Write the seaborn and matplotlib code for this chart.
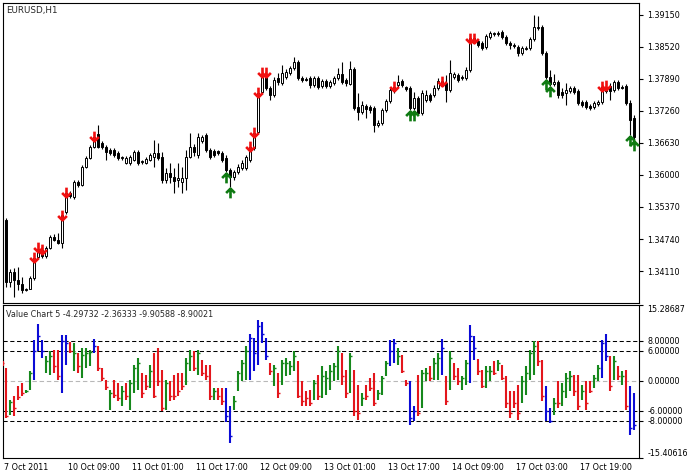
import numpy as np
import matplotlib
matplotlib.use("Agg")
import matplotlib.pyplot as plt
from matplotlib.path import Path
from matplotlib.transforms import offset_copy
import seaborn as sns

# EURUSD H1 candles
open_ = [1.3511, 1.3511, 1.3389, 1.3409, 1.3393, 1.3385, 1.3374, 1.3375, 1.3397, 1.3439,
         1.3452, 1.3440, 1.3456, 1.3478, 1.3472, 1.3466, 1.3527, 1.3565, 1.3557, 1.3586,
         1.3580, 1.3616, 1.3633, 1.3655, 1.3681, 1.3663, 1.3655, 1.3649, 1.3649, 1.3643,
         1.3633, 1.3624, 1.3624, 1.3629, 1.3645, 1.3626, 1.3624, 1.3629, 1.3635, 1.3643,
         1.3635, 1.3590, 1.3604, 1.3596, 1.3590, 1.3586, 1.3594, 1.3635, 1.3655, 1.3639,
         1.3667, 1.3679, 1.3649, 1.3647, 1.3647, 1.3643, 1.3633, 1.3610, 1.3596, 1.3606,
         1.3614, 1.3614, 1.3629, 1.3653, 1.3685, 1.3763, 1.3797, 1.3771, 1.3757, 1.3791,
         1.3781, 1.3793, 1.3801, 1.3811, 1.3822, 1.3791, 1.3789, 1.3791, 1.3777, 1.3791,
         1.3775, 1.3785, 1.3775, 1.3781, 1.3791, 1.3799, 1.3787, 1.3779, 1.3809, 1.3734,
         1.3724, 1.3736, 1.3734, 1.3732, 1.3698, 1.3702, 1.3728, 1.3746, 1.3765, 1.3777,
         1.3785, 1.3773, 1.3771, 1.3732, 1.3752, 1.3722, 1.3748, 1.3757, 1.3757, 1.3771,
         1.3785, 1.3781, 1.3767, 1.3793, 1.3797, 1.3793, 1.3791, 1.3807, 1.3870, 1.3864,
         1.3860, 1.3852, 1.3872, 1.3878, 1.3878, 1.3882, 1.3872, 1.3860, 1.3856, 1.3852,
         1.3840, 1.3848, 1.3850, 1.3868, 1.3889, 1.3891, 1.3840, 1.3793, 1.3779, 1.3783,
         1.3763, 1.3761, 1.3765, 1.3771, 1.3765, 1.3744, 1.3744, 1.3736, 1.3734, 1.3740,
         1.3744, 1.3765, 1.3775, 1.3767, 1.3783, 1.3773, 1.3775, 1.3742, 1.3712]
high = [1.3515, 1.3515, 1.3415, 1.3417, 1.3419, 1.3399, 1.3377, 1.3401, 1.3442, 1.3462,
        1.3458, 1.3460, 1.3482, 1.3484, 1.3486, 1.3525, 1.3570, 1.3568, 1.3590, 1.3590,
        1.3620, 1.3637, 1.3659, 1.3681, 1.3698, 1.3667, 1.3659, 1.3653, 1.3653, 1.3647,
        1.3637, 1.3637, 1.3639, 1.3649, 1.3649, 1.3629, 1.3635, 1.3643, 1.3669, 1.3663,
        1.3645, 1.3614, 1.3624, 1.3614, 1.3624, 1.3616, 1.3649, 1.3683, 1.3661, 1.3683,
        1.3679, 1.3683, 1.3653, 1.3651, 1.3649, 1.3647, 1.3639, 1.3614, 1.3610, 1.3622,
        1.3629, 1.3639, 1.3661, 1.3689, 1.3767, 1.3807, 1.3807, 1.3775, 1.3793, 1.3801,
        1.3817, 1.3809, 1.3815, 1.3832, 1.3826, 1.3795, 1.3793, 1.3795, 1.3795, 1.3795,
        1.3789, 1.3789, 1.3787, 1.3795, 1.3811, 1.3822, 1.3791, 1.3824, 1.3813, 1.3761,
        1.3746, 1.3740, 1.3738, 1.3736, 1.3708, 1.3732, 1.3750, 1.3771, 1.3779, 1.3797,
        1.3789, 1.3775, 1.3775, 1.3763, 1.3755, 1.3767, 1.3767, 1.3761, 1.3777, 1.3791,
        1.3789, 1.3797, 1.3826, 1.3803, 1.3801, 1.3797, 1.3813, 1.3874, 1.3874, 1.3868,
        1.3864, 1.3878, 1.3884, 1.3882, 1.3884, 1.3885, 1.3876, 1.3864, 1.3860, 1.3856,
        1.3854, 1.3854, 1.3872, 1.3915, 1.3913, 1.3895, 1.3844, 1.3807, 1.3799, 1.3787,
        1.3771, 1.3781, 1.3775, 1.3775, 1.3769, 1.3748, 1.3748, 1.3740, 1.3746, 1.3748,
        1.3779, 1.3781, 1.3781, 1.3787, 1.3787, 1.3777, 1.3779, 1.3748, 1.3718]
low = [1.3482, 1.3379, 1.3379, 1.3360, 1.3374, 1.3368, 1.3372, 1.3375, 1.3393, 1.3435,
       1.3437, 1.3437, 1.3454, 1.3470, 1.3464, 1.3456, 1.3523, 1.3555, 1.3553, 1.3576,
       1.3578, 1.3614, 1.3631, 1.3653, 1.3653, 1.3651, 1.3629, 1.3639, 1.3635, 1.3629,
       1.3629, 1.3622, 1.3620, 1.3628, 1.3620, 1.3622, 1.3622, 1.3628, 1.3616, 1.3629,
       1.3584, 1.3584, 1.3584, 1.3565, 1.3576, 1.3565, 1.3570, 1.3633, 1.3637, 1.3633,
       1.3663, 1.3645, 1.3631, 1.3635, 1.3639, 1.3626, 1.3606, 1.3576, 1.3590, 1.3602,
       1.3610, 1.3610, 1.3626, 1.3649, 1.3681, 1.3759, 1.3767, 1.3748, 1.3754, 1.3777,
       1.3777, 1.3789, 1.3797, 1.3807, 1.3787, 1.3783, 1.3785, 1.3771, 1.3773, 1.3769,
       1.3771, 1.3771, 1.3771, 1.3777, 1.3787, 1.3779, 1.3775, 1.3777, 1.3728, 1.3708,
       1.3720, 1.3712, 1.3722, 1.3685, 1.3694, 1.3698, 1.3724, 1.3742, 1.3761, 1.3773,
       1.3773, 1.3765, 1.3728, 1.3728, 1.3718, 1.3718, 1.3744, 1.3744, 1.3754, 1.3767,
       1.3777, 1.3744, 1.3763, 1.3789, 1.3783, 1.3787, 1.3787, 1.3803, 1.3860, 1.3852,
       1.3846, 1.3848, 1.3868, 1.3874, 1.3874, 1.3868, 1.3856, 1.3848, 1.3850, 1.3834,
       1.3836, 1.3846, 1.3846, 1.3864, 1.3885, 1.3836, 1.3789, 1.3775, 1.3775, 1.3752,
       1.3752, 1.3738, 1.3761, 1.3759, 1.3738, 1.3734, 1.3730, 1.3728, 1.3730, 1.3736,
       1.3740, 1.3761, 1.3748, 1.3763, 1.3767, 1.3769, 1.3738, 1.3679, 1.3669]
close = [1.3488, 1.3389, 1.3409, 1.3393, 1.3385, 1.3374, 1.3375, 1.3397, 1.3437, 1.3454,
         1.3440, 1.3456, 1.3478, 1.3472, 1.3466, 1.3521, 1.3565, 1.3559, 1.3586, 1.3580,
         1.3616, 1.3633, 1.3655, 1.3675, 1.3655, 1.3655, 1.3645, 1.3643, 1.3639, 1.3633,
         1.3635, 1.3633, 1.3635, 1.3645, 1.3624, 1.3628, 1.3631, 1.3639, 1.3643, 1.3633,
         1.3590, 1.3604, 1.3596, 1.3588, 1.3594, 1.3594, 1.3635, 1.3655, 1.3645, 1.3675,
         1.3675, 1.3649, 1.3635, 1.3639, 1.3643, 1.3629, 1.3610, 1.3596, 1.3606, 1.3616,
         1.3624, 1.3635, 1.3655, 1.3683, 1.3761, 1.3797, 1.3771, 1.3757, 1.3787, 1.3783,
         1.3801, 1.3803, 1.3811, 1.3822, 1.3791, 1.3787, 1.3787, 1.3777, 1.3791, 1.3773,
         1.3785, 1.3775, 1.3783, 1.3791, 1.3799, 1.3783, 1.3781, 1.3809, 1.3732, 1.3724,
         1.3738, 1.3730, 1.3728, 1.3698, 1.3702, 1.3728, 1.3746, 1.3767, 1.3773, 1.3783,
         1.3777, 1.3769, 1.3732, 1.3752, 1.3722, 1.3761, 1.3757, 1.3748, 1.3771, 1.3785,
         1.3781, 1.3767, 1.3801, 1.3799, 1.3787, 1.3791, 1.3807, 1.3870, 1.3864, 1.3856,
         1.3850, 1.3874, 1.3880, 1.3880, 1.3880, 1.3872, 1.3860, 1.3856, 1.3854, 1.3840,
         1.3850, 1.3850, 1.3868, 1.3891, 1.3891, 1.3840, 1.3793, 1.3779, 1.3783, 1.3757,
         1.3757, 1.3767, 1.3771, 1.3763, 1.3742, 1.3738, 1.3734, 1.3732, 1.3742, 1.3744,
         1.3773, 1.3773, 1.3765, 1.3783, 1.3771, 1.3771, 1.3742, 1.3708, 1.3675]

# arrow signals (bar index)
sell_bars = [8, 9, 10, 15, 16, 23, 62, 63, 64, 65, 66, 98, 110, 117, 118, 150, 151]
buy_bars = [56, 57, 102, 103, 136, 137, 157, 158]

# Value Chart 5 indicator
vc_high = [4.0, 2.5, -3.8, -3.1, -1.1, -0.5, -1.8, 1.9, 8.2, 11.4,
           8.2, 4.9, 5.9, 6.2, 6.2, 9.2, 9.2, 7.8, 7.5, 5.5,
           6.5, 6.5, 6.2, 8.3, 6.9, 2.5, 0.2, -1.8, 0.2, -0.5,
           -1.1, -0.5, 0.2, 3.2, 4.5, 1.5, 1.2, 3.2, 5.5, 6.5,
           2.2, 0.2, -0.1, 1.2, 1.5, 1.5, 4.5, 6.2, 5.9, 6.2,
           4.2, 3.2, 3.2, -1.5, -1.5, -1.5, -1.5, -5.1, -3.1, 1.9,
           4.2, 6.9, 9.5, 8.5, 12.3, 11.9, 8.5, 3.5, 3.2, 1.5,
           4.2, 4.5, 3.9, 5.9, 3.9, -0.1, -2.1, -1.8, 0.2, 1.2,
           2.9, 1.9, 3.2, 3.5, 6.9, 5.5, 2.2, 5.5, 2.2, -0.8,
           -2.5, -0.8, 0.5, 1.5, -1.8, 0.9, 3.9, 8.1, 8.3, 6.5,
           5.2, 0.2, -0.1, -5.1, 1.2, 2.2, 2.5, 2.9, 4.5, 5.5,
           8.3, 1.0, 5.9, 3.5, 2.5, 0.9, 4.2, 11.2, 8.9, 4.3,
           2.2, 2.9, 2.9, 3.9, 4.2, 3.2, 0.9, -2.1, -2.1, -0.8,
           0.9, 2.9, 6.2, 7.9, 7.9, 4.2, -1.1, -5.5, -3.5, -0.1,
           -0.5, 1.5, 1.9, 1.2, 1.2, -0.8, -0.1, -0.1, 1.2, 3.2,
           8.2, 9.5, 4.9, 4.9, 2.9, 1.9, 2.2, -1.1, -2.36333]
vc_low = [3.0, -7.5, -6.8, -7.1, -3.8, -3.1, -2.5, -1.8, 0.2, 5.9,
          4.5, 1.5, 1.2, 1.5, 0.2, -2.5, 3.2, 5.5, 1.9, 1.5,
          0.5, 2.5, 2.9, 5.5, 1.9, -0.1, -1.8, -5.8, -3.5, -4.1,
          -5.1, -3.8, -5.8, -2.5, -1.8, -3.5, -1.8, -1.5, -3.5, -1.1,
          -6.1, -5.8, -4.1, -3.8, -3.1, -1.8, -0.8, 1.9, 1.9, 1.2,
          0.9, 0.2, -3.8, -3.8, -3.8, -4.8, -8.2, -12.5, -5.8, -2.1,
          -0.1, 0.2, 0.2, 1.9, 3.2, 7.5, 4.2, 1.2, -1.1, -3.5,
          -0.8, 0.9, 1.2, 1.9, -3.5, -5.1, -5.1, -5.1, -3.8, -3.8,
          -3.5, -2.8, -1.8, -0.1, 0.2, -0.8, -3.5, -2.5, -7.1, -7.8,
          -5.1, -3.8, -2.1, -5.1, -3.8, -2.8, 0.9, 2.9, 3.5, 3.2,
          1.5, -1.1, -8.8, -8.1, -7.1, -5.5, -0.1, -0.1, 0.2, 0.2,
          1.2, -4.8, -1.8, 0.2, -0.8, -1.8, -0.8, -0.5, 4.2, 1.2,
          -1.5, -1.5, -0.1, 1.2, 1.9, 0.2, -5.5, -7.5, -5.5, -7.8,
          -4.5, -2.8, 0.2, 1.2, 2.9, -4.1, -8.1, -8.5, -6.8, -5.5,
          -5.1, -3.5, -2.1, -3.1, -5.8, -3.8, -5.8, -2.5, -1.5, -0.1,
          0.5, 3.9, -2.1, 0.2, 0.2, -0.8, -5.8, -10.8, -9.90588]
vc_close = [3.5, -7.0, -4.3, -5.5, -3.2, -2.5, -2.0, 1.5, 5.9, 8.9,
            6.0, 4.0, 5.0, 3.0, 1.0, 8.0, 7.5, 6.0, 5.5, 3.0,
            5.2, 5.5, 5.8, 7.0, 2.5, 0.5, -1.2, -2.5, -2.8, -3.5,
            -2.0, -3.0, -0.5, 2.5, 3.5, -2.5, -1.0, 2.0, -3.0, 0.0,
            -5.5, -0.5, -3.0, -3.0, -2.0, -1.0, 3.5, 5.0, 2.5, 5.5,
            1.5, 1.0, -3.0, -2.0, -3.0, -4.0, -7.0, -11.0, -4.0, 1.5,
            3.5, 6.0, 8.5, 5.5, 11.0, 9.5, 5.0, 2.0, 2.5, -2.5,
            3.5, 3.5, 3.0, 5.0, -3.0, -4.0, -3.5, -4.5, -0.5, -3.0,
            1.0, 0.5, 2.0, 3.0, 6.0, 1.0, -2.5, 5.0, -6.0, -6.5,
            -3.5, -3.0, -1.5, -4.5, -2.5, 0.5, 3.5, 6.0, 7.5, 5.0,
            2.0, -0.5, -7.5, -6.0, -6.5, 1.5, 1.5, 0.5, 3.5, 4.5,
            6.5, -4.0, 4.5, 1.0, 0.0, 0.5, 3.5, 9.0, 6.5, 2.0,
            -1.0, 2.0, 2.0, 1.5, 3.5, 0.5, -4.5, -6.5, -4.5, -6.5,
            0.0, 1.5, 5.5, 7.0, 4.0, -3.0, -6.0, -8.0, -4.5, -4.5,
            -2.0, 0.5, 1.0, -2.0, -5.0, -2.0, -4.5, -2.0, 0.5, 2.5,
            7.5, 5.0, -1.0, 4.0, 1.0, 1.0, -5.0, -9.5, -8.90021]
vc_color = ("rrgrrrggbb" "bggrrbbrgr" "gggbrrrgrr" "grgggrrgrr"
            "rgrrrrggrg" "rrrgrrbbgg" "ggbbbbbrgr" "ggggrrrrgr"
            "gggggrrgrr" "grrrgggbbg" "rrbbrggrgg" "brgrrggbbr"
            "rggrgrrrrr" "ggggrrbbgr" "gggrrgrrgg" "bbrgrgrbb")

price_ticks = [1.39150, 1.38520, 1.37890, 1.37260, 1.36630, 1.36000, 1.35370, 1.34740, 1.34110]
price_lim = (1.33486, 1.39386)
vc_levels = [8.0, 6.0, -6.0, -8.0]
vc_lim = (-15.40616, 15.28687)
date_pos = [0, 16, 32, 48, 64, 80, 96, 112, 128, 144]
date_labels = ["7 Oct 2011", "10 Oct 09:00", "11 Oct 01:00", "11 Oct 17:00", "12 Oct 09:00",
               "13 Oct 01:00", "13 Oct 17:00", "14 Oct 09:00", "17 Oct 03:00", "17 Oct 19:00"]

sns.set_theme(style="white", rc={"axes.edgecolor": "black", "axes.linewidth": 0.8,
                                  "xtick.color": "black", "ytick.color": "black"})
plt.rcParams['font.family'] = ['DejaVu Sans']
FS = 5.8

W, H = 689, 474
fig = plt.figure(figsize=(W / 100, H / 100), dpi=100)


def box(x0, y0, x1, y1):
    return [x0 / W, 1 - y1 / H, (x1 - x0) / W, (y1 - y0) / H]


ax = fig.add_axes(box(2.5, 3, 639, 302.7))
ax2 = fig.add_axes(box(2.5, 304.7, 639, 457.5))
xlim = (0.12, 159.25)

# candles
o = np.array(open_); c = np.array(close); hi = np.array(high); lo = np.array(low)
x = np.arange(len(c))
up = c >= o
ax.vlines(x, lo, hi, color="black", lw=0.8, zorder=2)
ax.bar(x, np.maximum(np.abs(c - o), 0.00003), bottom=np.minimum(o, c), width=0.5,
       color=np.where(up, "white", "black"), edgecolor="black", linewidth=0.7, zorder=3)

down_arrow = Path([(0, 0.5), (0, -0.5), (-0.45, -0.05), (0, -0.5), (0.45, -0.05)],
                  [Path.MOVETO, Path.LINETO, Path.MOVETO, Path.LINETO, Path.LINETO])
up_arrow = Path([(0, -0.5), (0, 0.5), (-0.45, 0.05), (0, 0.5), (0.45, 0.05)],
                [Path.MOVETO, Path.LINETO, Path.MOVETO, Path.LINETO, Path.LINETO])
tr_dn = offset_copy(ax.transData, fig=fig, x=0, y=-2, units="dots")
tr_up = offset_copy(ax.transData, fig=fig, x=0, y=-6, units="dots")
ax.plot(sell_bars, hi[sell_bars], ls="none", marker=down_arrow, ms=7, mew=1.9,
        mec="#f01010", mfc="none", transform=tr_dn, zorder=5)
ax.plot(buy_bars, lo[buy_bars], ls="none", marker=up_arrow, ms=7, mew=1.9,
        mec="#0f7a12", mfc="none", transform=tr_up, zorder=5)

ax.set_xlim(*xlim)
ax.set_ylim(*price_lim)
ax.set_xticks([])
ax.set_yticks(price_ticks)
ax.set_yticklabels([f"{p:.5f}" for p in price_ticks])
ax.yaxis.tick_right()
ax.tick_params(axis="y", direction="out", length=3, width=0.8, pad=3, labelsize=FS)
for s in ax.spines.values():
    s.set_visible(True)
    s.set_color("black")
    s.set_linewidth(0.8)

# Value Chart
cmap = {"r": "#e3161c", "g": "#16881c", "b": "#0b0bd6"}
cols = [cmap[k] for k in vc_color]
ax2.axhline(0, color="#b8b8b8", lw=0.8, ls=(0, (4, 2.5)), zorder=1)
for lvl in vc_levels:
    ax2.axhline(lvl, color="black", lw=0.75, ls=(0, (4, 2.5)), zorder=1)
ax2.vlines(x, vc_low, vc_high, colors=cols, lw=1.5, zorder=3)
ax2.hlines(vc_close, x, x + 0.45, colors=cols, lw=1.0, zorder=3)

ax2.set_xlim(*xlim)
ax2.set_ylim(*vc_lim)
yt = [vc_lim[0], -8, -6, 0, 6, 8, vc_lim[1]]
ax2.set_yticks(yt)
ax2.set_yticklabels([f"{v:.5f}" for v in yt])
ax2.yaxis.tick_right()
ax2.tick_params(axis="y", direction="out", length=3, width=0.8, pad=3, labelsize=FS)
ylabs = ax2.get_yticklabels()
ylabs[0].set_va("bottom")
ylabs[-1].set_va("top")
ax2.set_xticks(date_pos)
ax2.set_xticklabels(date_labels, ha="left")
ax2.tick_params(axis="x", direction="out", length=3, width=0.8, pad=1, labelsize=FS)
for lab in ax2.get_xticklabels():
    lab.set_transform(lab.get_transform() + matplotlib.transforms.ScaledTranslation(1.5 / 100, 0, fig.dpi_scale_trans))
for s in ax2.spines.values():
    s.set_visible(True)
    s.set_color("black")
    s.set_linewidth(0.8)

fig.text(6 / W, 1 - 11 / H, "EURUSD,H1", fontsize=6.3, va="center", ha="left")
fig.text(6 / W, 1 - 314.5 / H, "Value Chart 5 -4.29732 -2.36333 -9.90588 -8.90021",
         fontsize=FS, va="center", ha="left")

fig.savefig("out.png", dpi=100)
